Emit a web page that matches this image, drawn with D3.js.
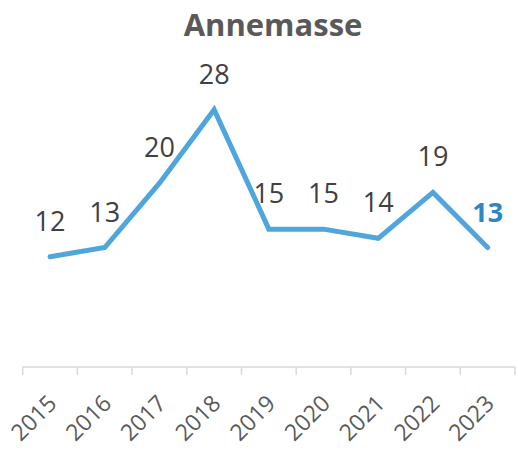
<!DOCTYPE html>
<html>
<head>
<meta charset="utf-8">
<script src="https://cdn.jsdelivr.net/npm/d3@7"></script>
<style>
  body { margin: 0; background: #fff; }
  text { font-family: 'Open Sans', sans-serif; }
</style>
</head>
<body>
<div id="container"></div>
<script>
'use strict';

const years = ['2015', '2016', '2017', '2018', '2019', '2020', '2021', '2022', '2023'];
const values = [12, 13, 20, 28, 15, 15, 14, 19, 13];
const title = 'Annemasse';

const w = 518;
const h = 450;
const left = 22.7;
const right = 515;
const baseY = 367;

const svg = d3.select('#container')
    .append('svg')
    .attr('width', w)
    .attr('height', h);

svg.append('text')
    .text(title)
    .attr('x', 273)
    .attr('y', 36)
    .attr('text-anchor', 'middle')
    .attr('font-size', 31)
    .attr('font-weight', 'bold')
    .attr('fill', '#595959');

const x = d3.scaleBand()
    .domain(years)
    .range([left, right]);

const y = d3.scaleLinear()
    .domain([0, 30])
    .range([baseY, baseY - 30 * 9.19]);

// axis line and boundary ticks
const axis = svg.append('g').attr('id', 'x-axis');
axis.append('line')
    .attr('x1', left).attr('x2', right)
    .attr('y1', baseY).attr('y2', baseY)
    .attr('stroke', '#d9d9d9')
    .attr('stroke-width', 1.5);
axis.selectAll('.tick-line')
    .data(years.concat(['end']))
    .enter()
    .append('line')
    .attr('class', 'tick-line')
    .attr('x1', (d, i) => i < years.length ? x(d) : x(years[years.length - 1]) + x.bandwidth())
    .attr('x2', (d, i) => i < years.length ? x(d) : x(years[years.length - 1]) + x.bandwidth())
    .attr('y1', baseY)
    .attr('y2', baseY + 8)
    .attr('stroke', '#d9d9d9')
    .attr('stroke-width', 1.5);

axis.selectAll('.tick-label')
    .data(years)
    .enter()
    .append('text')
    .attr('class', 'tick-label')
    .attr('text-anchor', 'end')
    .attr('font-size', 23)
    .attr('fill', '#595959')
    .attr('transform', (d) => 'translate(' + (x(d) + x.bandwidth() / 2 + 8) + ',' + (baseY + 38) + ') rotate(-45)')
    .text((d) => d);

const line = d3.line()
    .x((d, i) => x(years[i]) + x.bandwidth() / 2)
    .y((d) => y(d));

svg.append('path')
    .datum(values)
    .attr('d', line)
    .attr('fill', 'none')
    .attr('stroke', '#4ea6dc')
    .attr('stroke-width', 5)
    .attr('stroke-linecap', 'round')
    .attr('stroke-linejoin', 'miter');

svg.selectAll('.label')
    .data(values)
    .enter()
    .append('text')
    .attr('class', 'label')
    .attr('text-anchor', 'middle')
    .attr('font-size', 27)
    .attr('font-weight', (d, i) => i === values.length - 1 ? 'bold' : 'normal')
    .attr('fill', (d, i) => i === values.length - 1 ? '#2e86c1' : '#404040')
    .attr('x', (d, i) => x(years[i]) + x.bandwidth() / 2)
    .attr('y', (d) => y(d) - 26)
    .text((d) => d);
</script>
</body>
</html>
